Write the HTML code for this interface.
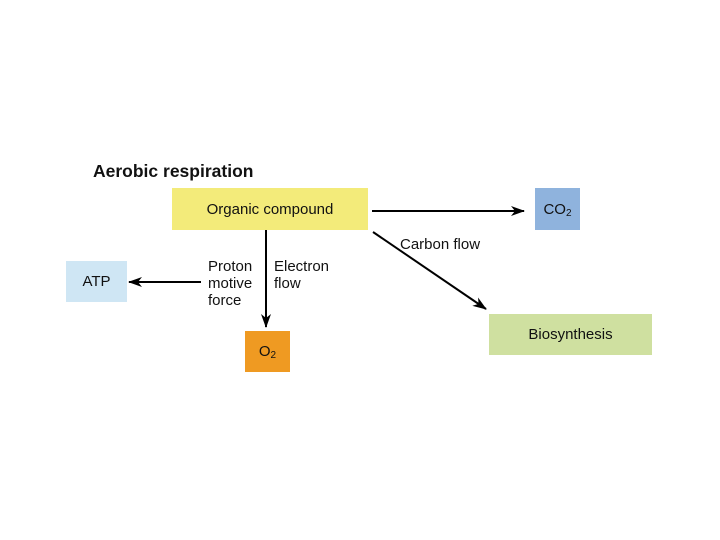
<!DOCTYPE html>
<html><head><style>
body{margin:0;width:720px;height:540px;background:#fff;position:relative;font-family:"Liberation Sans",Arial,sans-serif;overflow:hidden}
.b{position:absolute;display:flex;align-items:center;justify-content:center;font-size:15px;color:#111}
.t{position:absolute;font-size:15px;line-height:17px;color:#111}
sub{font-size:10px}
</style></head><body>
<div class="t" style="left:93px;top:161px;font-size:17.5px;font-weight:bold;line-height:20px">Aerobic respiration</div>
<div class="b" style="left:172px;top:188px;width:196px;height:42px;background:#f3eb7a">Organic compound</div>
<div class="b" style="left:66px;top:261px;width:61px;height:41px;background:#cfe6f4">ATP</div>
<div class="b" style="left:245px;top:331px;width:45px;height:41px;background:#ef9a22">O<sub style="position:relative;top:4px">2</sub></div>
<div class="b" style="left:535px;top:188px;width:45px;height:42px;background:#8fb3dd">CO<sub style="position:relative;top:4px">2</sub></div>
<div class="b" style="left:489px;top:314px;width:163px;height:41px;background:#cfe0a0">Biosynthesis</div>
<div class="t" style="left:208px;top:258px">Proton<br>motive<br>force</div>
<div class="t" style="left:274px;top:258px">Electron<br>flow</div>
<div class="t" style="left:400px;top:236px">Carbon flow</div>
<svg width="720" height="540" style="position:absolute;left:0;top:0">
<defs><marker id="a" markerWidth="14" markerHeight="10" refX="13" refY="5" orient="auto" markerUnits="userSpaceOnUse"><path d="M0,0 L14,5 L0,10 L4,5Z" fill="#000"/></marker></defs>
<g stroke="#000" stroke-width="2" fill="none">
<line x1="372" y1="211" x2="524" y2="211" marker-end="url(#a)"/>
<line x1="373" y1="232" x2="486" y2="309" marker-end="url(#a)"/>
<line x1="266" y1="230" x2="266" y2="327" marker-end="url(#a)"/>
<line x1="201" y1="282" x2="129" y2="282" marker-end="url(#a)"/>
</g></svg>
</body></html>
